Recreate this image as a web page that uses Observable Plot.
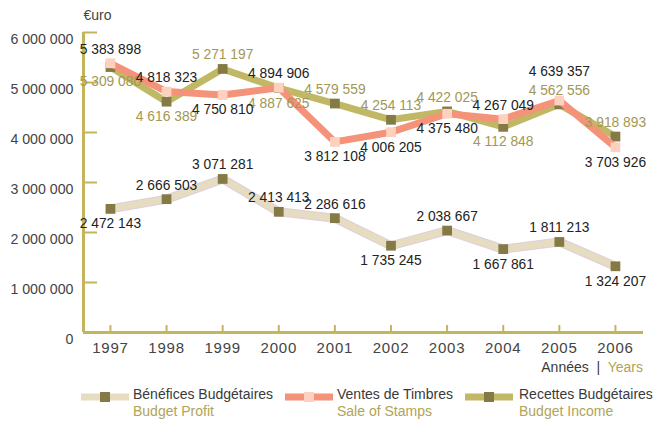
<!DOCTYPE html>
<html><head><meta charset="utf-8">
<script src="https://cdn.jsdelivr.net/npm/d3@7"></script>
<script src="https://cdn.jsdelivr.net/npm/@observablehq/plot@0.6"></script>
<style>
body{margin:0;background:#fff;font-family:"Liberation Sans",Arial,sans-serif;}
#wrap{position:relative;width:658px;height:421px;}
.leg{position:absolute;top:386px;font-size:14px;line-height:17px;color:#3a3a3a;}
.leg .en{color:#b0a456;}
.sw{position:absolute;top:390px;}
</style></head>
<body><div id="wrap"></div>
<script>
const years = [1997,1998,1999,2000,2001,2002,2003,2004,2005,2006];
const recettes = [5309080,4616389,5271197,4887625,4579559,4254113,4422025,4112848,4562556,3918893];
const ventes = [5383898,4818323,4750810,4894906,3812108,4006205,4375480,4267049,4639357,3703926];
const benefices = [2472143,2666503,3071281,2413413,2286616,1735245,2038667,1667861,1811213,1324207];
const yTicks = [0,1000000,2000000,3000000,4000000,5000000,6000000];
// label placement: 1 above, -1 below, 2 above (second row)
const recettesSide = [-1,-1,1,-1,1,1,1,-1,1,1];
const ventesSide = [1,1,-1,1,-1,-1,-1,1,2,-1];
const beneficesSide = [-1,1,1,1,1,-1,1,-1,1,-1];

const fmt = v => d3.format(",")(v).replace(/,/g, " ");
const mk = (vals, sides) => years.map((y,i)=>({year:y, value:vals[i], side:sides[i], label:fmt(vals[i])}));
const R = mk(recettes, recettesSide), V = mk(ventes, ventesSide), B = mk(benefices, beneficesSide);

const axisC = "#c4b55c", darkM = "#857a45";
const cR = "#c1b865", cV = "#f4927a", cB = "#e6dcbf", mV = "#fdd0c0";
const txtDark = "#222222", txtOl = "#a39753";
const x0 = 1996.52, x1 = 2006.5;

function labels(data, fill) {
  const common = {x:"year", y:"value", text:"label", fill, fontSize:13.8, fontFamily:"Liberation Sans, Arial, sans-serif"};
  return [
    Plot.text(data.filter(d=>d.side===1), {...common, dy:-14}),
    Plot.text(data.filter(d=>d.side===2), {...common, dy:-29}),
    Plot.text(data.filter(d=>d.side===-1), {...common, dy:15})
  ];
}

const chart = Plot.plot({
  width:658, height:378,
  marginLeft:83, marginRight:15, marginTop:32, marginBottom:46,
  style:{fontFamily:"Liberation Sans, Arial, sans-serif", background:"transparent"},
  x:{type:"linear", domain:[x0,x1], label:null},
  y:{type:"linear", domain:[0,6000000], label:null},
  marks:[
    Plot.axisY({ticks:yTicks, tickSize:-14, text:null, stroke:axisC, strokeWidth:2, label:null}),
    Plot.axisY({ticks:yTicks, tickSize:0, tickPadding:10, dy:7, tickFormat:fmt, fontSize:14.2, fill:"#444", label:null}),
    Plot.axisX({ticks:years, tickSize:-7, text:null, stroke:axisC, strokeWidth:2, label:null}),
    Plot.axisX({ticks:years, tickSize:0, tickPadding:10, tickFormat:d=>String(d), fontSize:15, fill:"#444", label:null}),
    Plot.ruleX([x0], {y1:0, y2:6000000, stroke:axisC, strokeWidth:3}),
    Plot.ruleY([0], {x1:x0, x2:x1, stroke:axisC, strokeWidth:3}),
    Plot.line(B, {x:"year", y:"value", stroke:"#dccfe0", strokeWidth:9}),
    Plot.line(B, {x:"year", y:"value", stroke:cB, strokeWidth:7}),
    Plot.dot(B, {x:"year", y:"value", symbol:"square", r:5.5, fill:darkM}),
    Plot.line(R, {x:"year", y:"value", stroke:cR, strokeWidth:7}),
    Plot.dot(R, {x:"year", y:"value", symbol:"square", r:5.5, fill:darkM}),
    Plot.line(V, {x:"year", y:"value", stroke:cV, strokeWidth:7}),
    Plot.dot(V, {x:"year", y:"value", symbol:"square", r:5.5, fill:mV}),
    ...labels(B, txtDark),
    ...labels(R, txtOl),
    ...labels(V, txtDark),
    Plot.text(["€uro"], {frameAnchor:"top-left", dx:0, dy:-22, fontSize:14, fill:"#444", textAnchor:"start"})
  ]
});
chart.querySelectorAll('[aria-label="x-axis tick label"] text').forEach(t => t.setAttribute("letter-spacing","0.8"));
chart.style.position = "absolute"; chart.style.left = "0"; chart.style.top = "0";
const wrap = document.getElementById("wrap");
wrap.appendChild(chart);

const yrs = document.createElement("div");
yrs.style.cssText = "position:absolute;right:15px;top:359px;font-size:14px;color:#3a3a3a;";
yrs.innerHTML = 'Années&nbsp; |&nbsp; <span style="color:#b0a456">Years</span>';
wrap.appendChild(yrs);

const legendItems = [
  {fr:"Bénéfices Budgétaires", en:"Budget Profit", line:cB, marker:darkM, sx:81, tx:133},
  {fr:"Ventes de Timbres", en:"Sale of Stamps", line:cV, marker:mV, sx:285, tx:337},
  {fr:"Recettes Budgétaires", en:"Budget Income", line:cR, marker:darkM, sx:465, tx:519}
];
for (const it of legendItems) {
  const s = document.createElementNS("http://www.w3.org/2000/svg","svg");
  s.setAttribute("width",48); s.setAttribute("height",14);
  s.setAttribute("class","sw");
  s.style.left = it.sx+"px";
  s.innerHTML = `<line x1="0" x2="48" y1="7" y2="7" stroke="${it.line}" stroke-width="7"/><rect x="19" y="2" width="10" height="10" fill="${it.marker}"/>`;
  wrap.appendChild(s);
  const t = document.createElement("div");
  t.className = "leg"; t.style.left = it.tx+"px";
  t.innerHTML = `${it.fr}<br><span class="en">${it.en}</span>`;
  wrap.appendChild(t);
}
</script></body></html>
